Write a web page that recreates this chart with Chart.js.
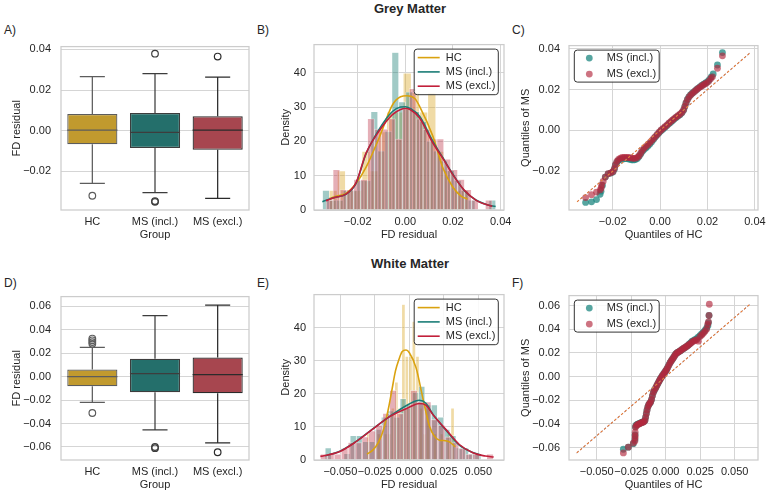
<!DOCTYPE html>
<html>
<head>
<meta charset="utf-8">
<title>FD residual – Grey and White Matter</title>
<script src="https://cdn.jsdelivr.net/npm/chart.js@4.4.1/dist/chart.umd.min.js"></script>
<style>
  body { margin: 0; width: 767px; height: 494px; overflow: hidden; position: relative; background: #fff;
         font-family: "Liberation Sans", Arial, sans-serif; color: #262626; }
  canvas { position: absolute; }
  .title { position: absolute; left: 310px; width: 200px; text-align: center; font-weight: bold; font-size: 13px; line-height: 16px; }
  .panel { position: absolute; font-size: 12px; line-height: 14px; }
</style>
</head>
<body>
<div class="title" style="top:1px">Grey Matter</div>
<div class="title" style="top:256px">White Matter</div>
<div class="panel" style="left:4px;top:23px">A)</div>
<div class="panel" style="left:257px;top:23px">B)</div>
<div class="panel" style="left:512px;top:23px">C)</div>
<div class="panel" style="left:4px;top:276px">D)</div>
<div class="panel" style="left:257px;top:276px">E)</div>
<div class="panel" style="left:512px;top:276px">F)</div>

<canvas id="gmBox"  width="262" height="214" style="left:0;top:30px"></canvas>
<canvas id="gmHist" width="262" height="214" style="left:268px;top:30px"></canvas>
<canvas id="gmQQ"   width="270" height="214" style="left:516px;top:30px"></canvas>
<canvas id="wmBox"  width="262" height="214" style="left:0;top:280px"></canvas>
<canvas id="wmHist" width="262" height="214" style="left:268px;top:280px"></canvas>
<canvas id="wmQQ"   width="270" height="214" style="left:516px;top:280px"></canvas>

<script>
// ---------- data ----------
const groups = ['HC', 'MS (incl.)', 'MS (excl.)'];

// A) grey matter box plot
const gmQ1 = [-0.0067, -0.0085, -0.0093];
const gmMedian = [0.0003, -0.0008, 0.0003];
const gmQ3 = [0.0082, 0.0087, 0.0071];
const gmWhiskLo = [-0.0259, -0.0304, -0.0333];
const gmWhiskHi = [0.0266, 0.0281, 0.0264];
const gmOutliers = [[-0.0320], [0.0379, -0.0346, -0.0350], [0.0365]];

// D) white matter box plot
const wmQ1 = [-0.0081, -0.0133, -0.0141];
const wmMedian = [0.0000, 0.0025, 0.0017];
const wmQ3 = [0.0061, 0.0152, 0.0163];
const wmWhiskLo = [-0.0219, -0.0454, -0.0564];
const wmWhiskHi = [0.0249, 0.0520, 0.0611];
const wmOutliers = [[0.0280, 0.0295, 0.0310, 0.0325, -0.0310], [-0.0600, -0.0610], [-0.0645]];

// B) grey matter histograms (bin centres and densities)
const gmBinHC = [-0.0303, -0.0268, -0.0234, -0.0199, -0.0165, -0.0130, -0.0096, -0.0061, -0.0027, 0.0008, 0.0042, 0.0077, 0.0111, 0.0146, 0.0180, 0.0215, 0.0249];
const gmDensHC = [5.7, 11.4, 5.7, 5.7, 17.1, 11.4, 22.8, 28.5, 28.5, 39.9, 34.2, 28.5, 34.2, 17.1, 11.4, 5.7, 5.7];
const gmBinIncl = [-0.0333, -0.0304, -0.0275, -0.0246, -0.0217, -0.0188, -0.0159, -0.0130, -0.0101, -0.0071, -0.0042, -0.0013, 0.0016, 0.0045, 0.0074, 0.0103, 0.0132, 0.0162, 0.0191, 0.0220, 0.0249, 0.0278, 0.0307, 0.0336, 0.0365];
const gmDensIncl = [5.7, 2.9, 2.9, 5.7, 5.7, 8.6, 8.6, 28.7, 17.2, 22.9, 45.9, 31.5, 34.4, 28.7, 25.8, 20.1, 17.2, 14.3, 11.5, 8.6, 5.7, 2.9, 0, 0, 2.9];
const gmBinExcl = [-0.0318, -0.0289, -0.0260, -0.0231, -0.0202, -0.0173, -0.0144, -0.0115, -0.0086, -0.0056, -0.0027, 0.0002, 0.0031, 0.0060, 0.0089, 0.0118, 0.0147, 0.0176, 0.0205, 0.0234, 0.0263, 0.0292, 0.0321, 0.0350];
const gmDensExcl = [2.9, 11.8, 5.9, 5.9, 8.9, 8.9, 26.6, 23.6, 23.6, 26.6, 20.7, 29.5, 35.4, 26.6, 23.6, 20.7, 20.7, 14.8, 11.8, 8.9, 5.9, 2.9, 0, 2.9];

// B) kde curves [x, density]
const gmKdeHC = [[-0.0318, 3.4], [-0.0290, 4.0], [-0.0249, 4.8], [-0.0207, 7.7], [-0.0165, 12.4], [-0.0110, 21.0], [-0.0054, 30.6], [-0.0020, 33.0], [0.0007, 33.3], [0.0040, 32.5], [0.0060, 30.2], [0.0115, 21.6], [0.0157, 12.4], [0.0199, 6.7], [0.0235, 4.0], [0.0261, 3.2]];
const gmKdeIncl = [[-0.0348, 2.4], [-0.0300, 3.6], [-0.0249, 4.6], [-0.0207, 7.7], [-0.0165, 16.3], [-0.0110, 23.5], [-0.0054, 28.7], [-0.0020, 30.0], [0.0000, 30.1], [0.0020, 29.6], [0.0060, 27.3], [0.0115, 20.1], [0.0157, 15.3], [0.0199, 10.5], [0.0247, 5.7], [0.0296, 2.9], [0.0340, 1.6], [0.0379, 1.0]];
const gmKdeExcl = [[-0.0333, 2.7], [-0.0300, 3.6], [-0.0249, 4.6], [-0.0207, 7.9], [-0.0165, 16.5], [-0.0110, 23.0], [-0.0054, 27.8], [-0.0020, 29.3], [0.0000, 29.6], [0.0020, 29.3], [0.0060, 26.8], [0.0115, 19.6], [0.0157, 15.1], [0.0199, 10.3], [0.0247, 5.8], [0.0296, 2.9], [0.0330, 1.8], [0.0365, 1.1]];

// E) white matter histograms
const wmBinHC = [-0.0297, -0.0272, -0.0246, -0.0221, -0.0196, -0.0170, -0.0145, -0.0119, -0.0094, -0.0069, -0.0043, -0.0018, 0.0008, 0.0033, 0.0059, 0.0084, 0.0109, 0.0135, 0.0160, 0.0186, 0.0211, 0.0236, 0.0262, 0.0287, 0.0313];
const wmDensHC = [7.9, 0, 0, 7.9, 0, 7.9, 7.9, 15.7, 23.6, 15.7, 47.1, 31.4, 31.4, 42.0, 31.4, 15.7, 7.9, 15.7, 0, 7.9, 0, 7.9, 0, 7.9, 15.7];
const wmBinIncl = [-0.0588, -0.0542, -0.0497, -0.0452, -0.0407, -0.0362, -0.0316, -0.0271, -0.0226, -0.0181, -0.0136, -0.0090, -0.0045, 0.0000, 0.0045, 0.0090, 0.0136, 0.0181, 0.0226, 0.0271, 0.0316, 0.0362, 0.0407, 0.0452, 0.0497];
const wmDensIncl = [3.7, 0, 0, 1.9, 7.4, 7.4, 5.6, 5.6, 9.3, 13.0, 14.9, 13.0, 18.6, 16.7, 20.5, 22.3, 16.7, 16.7, 13.0, 9.3, 7.4, 3.7, 3.7, 1.9, 1.9];
const wmBinExcl = [-0.0620, -0.0570, -0.0520, -0.0469, -0.0419, -0.0369, -0.0319, -0.0269, -0.0218, -0.0168, -0.0118, -0.0068, -0.0018, 0.0033, 0.0083, 0.0133, 0.0183, 0.0233, 0.0284, 0.0334, 0.0384, 0.0434, 0.0484, 0.0535, 0.0585];
const wmDensExcl = [1.8, 1.8, 1.8, 3.5, 5.3, 5.3, 7.0, 8.8, 10.6, 14.1, 21.1, 14.1, 15.8, 21.1, 17.6, 17.6, 12.3, 10.6, 7.0, 5.3, 3.5, 1.8, 1.8, 0, 1.8];

// E) kde curves
const wmKdeHC = [[-0.0307, 1.8], [-0.0265, 3.0], [-0.0222, 5.5], [-0.0185, 9.5], [-0.0150, 15.9], [-0.0125, 21.5], [-0.0101, 26.9], [-0.0075, 30.5], [-0.0053, 32.8], [-0.0024, 33.3], [0.0000, 32.5], [0.0049, 27.9], [0.0097, 18.9], [0.0145, 10.4], [0.0180, 7.3], [0.0217, 6.0], [0.0250, 5.9], [0.0290, 5.5], [0.0333, 4.0]];
const wmKdeIncl = [[-0.0610, 1.3], [-0.0512, 2.5], [-0.0391, 5.5], [-0.0270, 9.3], [-0.0149, 13.0], [-0.0004, 16.9], [0.0072, 18.1], [0.0120, 17.2], [0.0170, 13.9], [0.0266, 9.0], [0.0362, 4.5], [0.0460, 2.3], [0.0520, 1.5]];
const wmKdeExcl = [[-0.0645, 1.1], [-0.0512, 2.4], [-0.0391, 5.4], [-0.0270, 9.2], [-0.0149, 13.0], [-0.0004, 15.9], [0.0072, 17.1], [0.0120, 16.6], [0.0170, 13.8], [0.0266, 9.2], [0.0362, 4.7], [0.0460, 2.2], [0.0550, 1.2], [0.0611, 0.9]];

// C) grey matter QQ points [HC quantile, MS quantile]
const gmQQIncl = [[-0.0314, -0.0353], [-0.0289, -0.0350], [-0.0268, -0.0339], [-0.0253, -0.0313], [-0.0249, -0.0298], [-0.0243, -0.0270], [-0.0231, -0.0229], [-0.0219, -0.0213], [-0.0208, -0.0209], [-0.0199, -0.0204], [-0.0193, -0.0190], [-0.0189, -0.0172], [-0.0183, -0.0158], [-0.0176, -0.0148], [-0.0168, -0.0143], [-0.0160, -0.0140], [-0.0152, -0.0139], [-0.0144, -0.0138], [-0.0136, -0.0139], [-0.0128, -0.0142], [-0.0120, -0.0144], [-0.0112, -0.0145], [-0.0104, -0.0143], [-0.0096, -0.0138], [-0.0089, -0.0128], [-0.0082, -0.0116], [-0.0075, -0.0104], [-0.0068, -0.0094], [-0.0060, -0.0086], [-0.0052, -0.0078], [-0.0044, -0.0068], [-0.0036, -0.0057], [-0.0028, -0.0045], [-0.0020, -0.0033], [-0.0012, -0.0022], [-0.0004, -0.0012], [0.0004, -0.0002], [0.0012, 0.0006], [0.0020, 0.0014], [0.0028, 0.0022], [0.0036, 0.0031], [0.0044, 0.0039], [0.0052, 0.0047], [0.0060, 0.0055], [0.0068, 0.0063], [0.0076, 0.0070], [0.0084, 0.0077], [0.0092, 0.0086], [0.0099, 0.0098], [0.0104, 0.0115], [0.0109, 0.0133], [0.0115, 0.0150], [0.0121, 0.0163], [0.0128, 0.0173], [0.0136, 0.0182], [0.0144, 0.0190], [0.0152, 0.0198], [0.0160, 0.0206], [0.0168, 0.0213], [0.0176, 0.0220], [0.0184, 0.0226], [0.0192, 0.0232], [0.0200, 0.0238], [0.0208, 0.0248], [0.0216, 0.0262], [0.0224, 0.0276], [0.0242, 0.0320], [0.0263, 0.0381]];
const gmQQExcl = [[-0.0314, -0.0329], [-0.0289, -0.0315], [-0.0268, -0.0302], [-0.0252, -0.0291], [-0.0248, -0.0281], [-0.0246, -0.0268], [-0.0240, -0.0250], [-0.0231, -0.0229], [-0.0219, -0.0212], [-0.0207, -0.0208], [-0.0198, -0.0201], [-0.0192, -0.0186], [-0.0188, -0.0168], [-0.0182, -0.0152], [-0.0175, -0.0142], [-0.0167, -0.0136], [-0.0159, -0.0133], [-0.0151, -0.0132], [-0.0143, -0.0132], [-0.0135, -0.0133], [-0.0127, -0.0134], [-0.0119, -0.0136], [-0.0111, -0.0137], [-0.0103, -0.0136], [-0.0095, -0.0132], [-0.0088, -0.0124], [-0.0081, -0.0111], [-0.0074, -0.0098], [-0.0067, -0.0087], [-0.0059, -0.0078], [-0.0051, -0.0069], [-0.0043, -0.0060], [-0.0035, -0.0050], [-0.0027, -0.0040], [-0.0019, -0.0029], [-0.0011, -0.0019], [-0.0003, -0.0008], [0.0005, 0.0002], [0.0013, 0.0010], [0.0021, 0.0018], [0.0029, 0.0026], [0.0037, 0.0035], [0.0045, 0.0043], [0.0053, 0.0051], [0.0061, 0.0059], [0.0069, 0.0066], [0.0077, 0.0073], [0.0085, 0.0080], [0.0093, 0.0089], [0.0100, 0.0102], [0.0105, 0.0119], [0.0110, 0.0136], [0.0116, 0.0152], [0.0123, 0.0165], [0.0131, 0.0175], [0.0139, 0.0184], [0.0147, 0.0192], [0.0155, 0.0200], [0.0163, 0.0207], [0.0171, 0.0214], [0.0179, 0.0220], [0.0187, 0.0226], [0.0195, 0.0231], [0.0205, 0.0240], [0.0214, 0.0254], [0.0221, 0.0262], [0.0242, 0.0304], [0.0263, 0.0365]];
const gmDiag = [-0.0350, 0.0381];

// F) white matter QQ points
const wmQQIncl = [[-0.0307, -0.0614], [-0.0271, -0.0597], [-0.0235, -0.0567], [-0.0223, -0.0532], [-0.0222, -0.0492], [-0.0220, -0.0425], [-0.0214, -0.0410], [-0.0206, -0.0404], [-0.0198, -0.0400], [-0.0190, -0.0396], [-0.0182, -0.0392], [-0.0174, -0.0388], [-0.0166, -0.0384], [-0.0158, -0.0380], [-0.0151, -0.0372], [-0.0146, -0.0345], [-0.0141, -0.0315], [-0.0136, -0.0285], [-0.0130, -0.0258], [-0.0124, -0.0240], [-0.0117, -0.0228], [-0.0110, -0.0218], [-0.0103, -0.0196], [-0.0097, -0.0165], [-0.0090, -0.0135], [-0.0082, -0.0115], [-0.0073, -0.0097], [-0.0065, -0.0078], [-0.0057, -0.0060], [-0.0049, -0.0042], [-0.0041, -0.0024], [-0.0033, -0.0009], [-0.0025, 0.0005], [-0.0017, 0.0019], [-0.0009, 0.0032], [-0.0001, 0.0045], [0.0007, 0.0060], [0.0015, 0.0078], [0.0023, 0.0097], [0.0031, 0.0116], [0.0039, 0.0131], [0.0047, 0.0145], [0.0055, 0.0158], [0.0063, 0.0173], [0.0071, 0.0188], [0.0080, 0.0199], [0.0090, 0.0206], [0.0100, 0.0213], [0.0110, 0.0221], [0.0120, 0.0230], [0.0130, 0.0238], [0.0140, 0.0245], [0.0150, 0.0253], [0.0160, 0.0262], [0.0170, 0.0273], [0.0180, 0.0284], [0.0190, 0.0296], [0.0200, 0.0304], [0.0212, 0.0311], [0.0224, 0.0320], [0.0236, 0.0333], [0.0248, 0.0346], [0.0260, 0.0360], [0.0272, 0.0374], [0.0284, 0.0390], [0.0296, 0.0410], [0.0306, 0.0430], [0.0310, 0.0456], [0.0314, 0.0516]];
const wmQQExcl = [[-0.0307, -0.0645], [-0.0271, -0.0597], [-0.0235, -0.0562], [-0.0223, -0.0545], [-0.0222, -0.0518], [-0.0222, -0.0500], [-0.0221, -0.0470], [-0.0219, -0.0428], [-0.0213, -0.0414], [-0.0205, -0.0407], [-0.0197, -0.0402], [-0.0189, -0.0397], [-0.0181, -0.0393], [-0.0173, -0.0389], [-0.0165, -0.0385], [-0.0157, -0.0380], [-0.0150, -0.0370], [-0.0145, -0.0342], [-0.0140, -0.0312], [-0.0135, -0.0282], [-0.0129, -0.0256], [-0.0123, -0.0238], [-0.0116, -0.0226], [-0.0109, -0.0215], [-0.0102, -0.0192], [-0.0096, -0.0161], [-0.0089, -0.0132], [-0.0081, -0.0112], [-0.0072, -0.0094], [-0.0064, -0.0075], [-0.0056, -0.0057], [-0.0048, -0.0039], [-0.0040, -0.0022], [-0.0032, -0.0007], [-0.0024, 0.0007], [-0.0016, 0.0021], [-0.0008, 0.0034], [0.0000, 0.0047], [0.0008, 0.0062], [0.0016, 0.0080], [0.0024, 0.0099], [0.0032, 0.0117], [0.0040, 0.0132], [0.0048, 0.0146], [0.0056, 0.0159], [0.0064, 0.0174], [0.0072, 0.0189], [0.0081, 0.0200], [0.0091, 0.0207], [0.0101, 0.0214], [0.0111, 0.0222], [0.0121, 0.0231], [0.0131, 0.0239], [0.0141, 0.0246], [0.0151, 0.0254], [0.0161, 0.0263], [0.0171, 0.0272], [0.0181, 0.0281], [0.0191, 0.0291], [0.0201, 0.0299], [0.0213, 0.0305], [0.0225, 0.0312], [0.0237, 0.0299], [0.0249, 0.0338], [0.0261, 0.0352], [0.0273, 0.0366], [0.0285, 0.0382], [0.0297, 0.0402], [0.0304, 0.0440], [0.0310, 0.0462], [0.0314, 0.0516], [0.0316, 0.0611]];
const wmDiag = [-0.0645, 0.0611];

// tick values
const gmTicks = [-0.02, 0, 0.02, 0.04];
const wmTicks = [-0.06, -0.04, -0.02, 0, 0.02, 0.04, 0.06];
const wmXTicks = [-0.05, -0.025, 0, 0.025, 0.05];
const densityTicks = [0, 10, 20, 30, 40];

// ---------- style ----------
Chart.defaults.font.family = '"Liberation Sans", Arial, sans-serif';
Chart.defaults.font.size = 11;
Chart.defaults.color = '#262626';
Chart.defaults.animation = false;
Chart.defaults.responsive = false;
Chart.defaults.plugins.legend.display = false;
Chart.defaults.plugins.tooltip.enabled = false;

const GRID = '#d5d5d5';
const boxFill = ['#C19A2E', '#246F6B', '#A7464F'];
const boxLine = ['#5c5c5c', '#3d3d3d', '#2b2b2b'];
const histFill = ['rgba(218,165,32,0.40)', 'rgba(30,128,120,0.42)', 'rgba(192,64,84,0.42)'];
const kdeColor = ['#DAA20F', '#1B7D77', '#C21F3A'];
const qqColor = ['rgba(30,135,128,0.75)', 'rgba(178,40,62,0.65)'];

function tickFmt(dec) {
  return v => (v < 0 ? '\u2212' : '') + Math.abs(v).toFixed(dec);
}

function valueAxis(pos, min, max, ticks, dec, title, size, titlePad, tickPad) {
  const horizontal = pos === 'bottom';
  return {
    type: 'linear', position: pos, min, max, bounds: 'data', offset: false,
    afterBuildTicks: s => { s.ticks = ticks.map(v => ({ value: v })); },
    afterFit: s => { if (horizontal) s.height = size; else s.width = size; },
    ticks: { padding: tickPad, autoSkip: false, maxRotation: 0, callback: tickFmt(dec) },
    grid: { color: GRID, drawTicks: false, offset: false },
    border: { display: false },
    title: { display: true, text: title,
             padding: horizontal ? { top: 0, bottom: titlePad } : { top: titlePad, bottom: 0 } }
  };
}

function hiddenAxis(min, max, ticks) {
  return {
    type: 'linear', position: 'bottom', display: false, min, max, bounds: 'data', offset: false,
    afterBuildTicks: s => { s.ticks = ticks.map(v => ({ value: v })); },
    grid: { offset: false }
  };
}

// light grey spines round the plot area
const framePlugin = {
  id: 'frame',
  afterDatasetsDraw(chart) {
    const { ctx, chartArea: a } = chart;
    ctx.save();
    ctx.strokeStyle = '#cccccc';
    ctx.lineWidth = 1.25;
    ctx.strokeRect(a.left, a.top, a.width, a.height);
    ctx.restore();
  }
};

// whiskers, caps and median drawn on top of the floating bars
function makeWhiskers(q1, med, q3, lo, hi) {
  return {
    id: 'whiskers',
    afterDatasetsDraw(chart) {
      const ctx = chart.ctx;
      const y = chart.scales.y;
      const bars = chart.getDatasetMeta(0).data;
      ctx.save();
      ctx.lineWidth = 1.25;
      bars.forEach((bar, i) => {
        const half = bar.width / 2, cap = bar.width / 4;
        const hiPx = y.getPixelForValue(hi[i]), loPx = y.getPixelForValue(lo[i]);
        const medPx = y.getPixelForValue(med[i]);
        ctx.strokeStyle = boxLine[i];
        ctx.beginPath();
        ctx.moveTo(bar.x, y.getPixelForValue(q3[i])); ctx.lineTo(bar.x, hiPx);
        ctx.moveTo(bar.x, y.getPixelForValue(q1[i])); ctx.lineTo(bar.x, loPx);
        ctx.moveTo(bar.x - cap, hiPx); ctx.lineTo(bar.x + cap, hiPx);
        ctx.moveTo(bar.x - cap, loPx); ctx.lineTo(bar.x + cap, loPx);
        ctx.moveTo(bar.x - half, medPx); ctx.lineTo(bar.x + half, medPx);
        ctx.stroke();
      });
      ctx.restore();
    }
  };
}

// boxed legend inside the plot area
function makeLegend(cfg) {
  return {
    id: 'boxLegend',
    afterDraw(chart) {
      const { ctx, chartArea: a } = chart;
      const items = chart.data.datasets.filter(d => d.label);
      ctx.save();
      ctx.font = '11px "Liberation Sans", Arial, sans-serif';
      const tw = Math.max(...items.map(d => ctx.measureText(d.label).width));
      const w = cfg.textX + tw + 3;
      const h = cfg.firstRow * 2 + cfg.rowH * (items.length - 1);
      const x0 = cfg.side === 'right' ? a.right - cfg.inset - w : a.left + cfg.inset;
      const y0 = a.top + 4.5;
      ctx.beginPath();
      ctx.roundRect(x0, y0, w, h, 3);
      ctx.fillStyle = 'rgba(255,255,255,0.85)';
      ctx.fill();
      ctx.strokeStyle = '#333';
      ctx.lineWidth = 1;
      ctx.stroke();
      ctx.textAlign = 'left';
      ctx.textBaseline = 'middle';
      items.forEach((d, i) => {
        const cy = y0 + cfg.firstRow + i * cfg.rowH;
        if (cfg.kind === 'line') {
          ctx.strokeStyle = d.borderColor;
          ctx.lineWidth = 1.6;
          ctx.beginPath();
          ctx.moveTo(x0 + 3.5, cy); ctx.lineTo(x0 + 25.5, cy);
          ctx.stroke();
        } else {
          ctx.fillStyle = d.backgroundColor;
          ctx.beginPath();
          ctx.arc(x0 + 15, cy, 3.4, 0, Math.PI * 2);
          ctx.fill();
        }
        ctx.fillStyle = '#262626';
        ctx.fillText(d.label, x0 + cfg.textX, cy);
      });
      ctx.restore();
    }
  };
}

// ---------- charts ----------
function boxChart(id, padTop, q1, med, q3, lo, hi, outliers, yMin, yMax, yTicks) {
  const datasets = [{
    type: 'bar',
    data: groups.map((g, i) => [q1[i], q3[i]]),
    backgroundColor: boxFill,
    borderColor: boxLine,
    borderWidth: 1.25,
    borderSkipped: false,
    barPercentage: 0.8,
    categoryPercentage: 1,
    order: 2
  }];
  outliers.forEach((vals, i) => datasets.push({
    type: 'line',
    showLine: false,
    data: vals.map(v => ({ x: groups[i], y: v })),
    pointRadius: 3.3,
    pointBackgroundColor: 'rgba(255,255,255,0)',
    pointBorderColor: boxLine[i],
    pointBorderWidth: 1.2,
    order: 1
  }));
  return new Chart(document.getElementById(id), {
    type: 'bar',
    data: { labels: groups, datasets },
    options: {
      layout: { padding: { top: padTop, right: 13, left: 0, bottom: 0 } },
      scales: {
        x: {
          type: 'category', offset: true,
          grid: { display: false, drawTicks: false }, border: { display: false },
          ticks: { padding: 5, maxRotation: 0, autoSkip: false },
          afterFit: s => { s.height = 34; },
          title: { display: true, text: 'Group', padding: { top: 0, bottom: 2 } }
        },
        y: valueAxis('left', yMin, yMax, yTicks, 2, 'FD residual', 61, 10.4, 10)
      }
    },
    plugins: [makeWhiskers(q1, med, q3, lo, hi), framePlugin]
  });
}

function histChart(id, padTop, bins, dens, kdes, xMin, xMax, xTicks, xDec, yMax) {
  const datasets = [];
  const scales = {
    x: valueAxis('bottom', xMin, xMax, xTicks, xDec, 'FD residual', 34, 2, 5),
    y: valueAxis('left', 0, yMax, densityTicks, 0, 'Density', 46, 11.4, 8)
  };
  bins.forEach((centres, k) => {
    scales['xb' + k] = hiddenAxis(xMin, xMax, xTicks);
    datasets.push({
      type: 'bar',
      xAxisID: 'xb' + k,
      data: centres.map((c, i) => ({ x: c, y: dens[k][i] })),
      backgroundColor: histFill[k],
      borderColor: 'rgba(255,255,255,0.55)',
      borderWidth: 0.7,
      grouped: false,
      barPercentage: 1,
      categoryPercentage: 1,
      order: 10 - k
    });
  });
  kdes.forEach((pts, k) => datasets.push({
    type: 'line',
    label: groups[k],
    xAxisID: 'x',
    data: pts.map(p => ({ x: p[0], y: p[1] })),
    borderColor: kdeColor[k],
    borderWidth: 1.6,
    pointRadius: 0,
    fill: false,
    cubicInterpolationMode: 'monotone',
    order: 3 - k
  }));
  return new Chart(document.getElementById(id), {
    type: 'bar',
    data: { datasets },
    options: {
      layout: { padding: { top: padTop, right: 26, left: 0, bottom: 0 } },
      scales
    },
    plugins: [framePlugin, makeLegend({ side: 'right', inset: 5.7, kind: 'line', textX: 31.6, firstRow: 8.5, rowH: 14.3 })]
  });
}

function qqChart(id, padTop, incl, excl, diag, xMin, xMax, yMin, yMax, xTicks, xDec, yTicks) {
  const datasets = [
    { type: 'scatter', label: 'MS (incl.)', data: incl.map(p => ({ x: p[0], y: p[1] })),
      backgroundColor: qqColor[0], pointBorderWidth: 0, pointRadius: 3.4, order: 3 },
    { type: 'scatter', label: 'MS (excl.)', data: excl.map(p => ({ x: p[0], y: p[1] })),
      backgroundColor: qqColor[1], pointBorderWidth: 0, pointRadius: 3.4, order: 2 },
    { type: 'line', data: diag.map(v => ({ x: v, y: v })), borderColor: '#4C72C8', borderWidth: 1,
      borderDash: [2.5, 2], pointRadius: 0, fill: false, order: 1 },
    { type: 'line', data: diag.map(v => ({ x: v, y: v })), borderColor: '#EE7F35', borderWidth: 1.1,
      borderDash: [2.5, 2], pointRadius: 0, fill: false, order: 0 }
  ];
  return new Chart(document.getElementById(id), {
    type: 'scatter',
    data: { datasets },
    options: {
      layout: { padding: { top: padTop, right: 28, left: 0, bottom: 0 } },
      scales: {
        x: valueAxis('bottom', xMin, xMax, xTicks, xDec, 'Quantiles of HC', 34, 2, 5),
        y: valueAxis('left', yMin, yMax, yTicks, 2, 'Quantiles of MS', 53, 3.4, 9)
      }
    },
    plugins: [framePlugin, makeLegend({ side: 'left', inset: 5.3, kind: 'dot', textX: 32.4, firstRow: 8, rowH: 16 })]
  });
}

boxChart('gmBox', 13, gmQ1, gmMedian, gmQ3, gmWhiskLo, gmWhiskHi, gmOutliers, -0.0390, 0.0414, gmTicks);
histChart('gmHist', 13, [gmBinHC, gmBinIncl, gmBinExcl], [gmDensHC, gmDensIncl, gmDensExcl],
          [gmKdeHC, gmKdeIncl, gmKdeExcl], -0.0383, 0.0414, gmTicks, 2, 48.2);
qqChart('gmQQ', 13, gmQQIncl, gmQQExcl, gmDiag, -0.0384, 0.0413, -0.0390, 0.0415, gmTicks, 2, gmTicks);

boxChart('wmBox', 12, wmQ1, wmMedian, wmQ3, wmWhiskLo, wmWhiskHi, wmOutliers, -0.0711, 0.0683, wmTicks);
histChart('wmHist', 12, [wmBinHC, wmBinIncl, wmBinExcl], [wmDensHC, wmDensIncl, wmDensExcl],
          [wmKdeHC, wmKdeIncl, wmKdeExcl], -0.0691, 0.0686, wmXTicks, 3, 50.1);
qqChart('wmQQ', 12, wmQQIncl, wmQQExcl, wmDiag, -0.0701, 0.0669, -0.0705, 0.0684, wmXTicks, 3, wmTicks);
</script>
</body>
</html>
